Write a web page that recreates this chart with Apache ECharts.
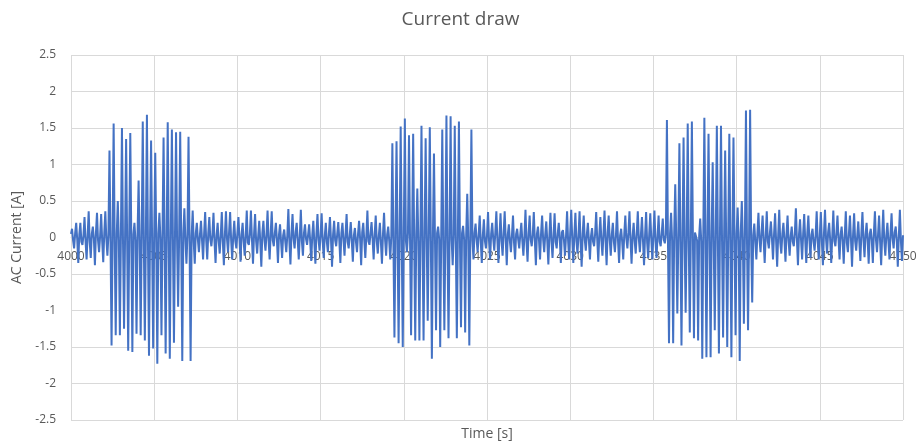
<!DOCTYPE html>
<html><head><meta charset="utf-8">
<script src="https://cdn.jsdelivr.net/npm/echarts@6/dist/echarts.min.js"></script>
<style>html,body{margin:0;padding:0;background:#fff}#c{width:921px;height:443px}</style>
</head><body><div id="c"></div>
<script>
const startTime = 4000;
const sampleStep = 0.0625;
const yTicksMin = -2.5, yTicksMax = 2.5, yInterval = 0.5;
const xMin = 4000, xMax = 4050, xInterval = 5;

const posPeaks = [
 0.12,0.2,0.2,0.28,  0.36,0.15,0.34,0.32,  0.36,1.19,1.56,0.5,  1.5,1.35,1.43,0.2,  0.78,1.59,1.68,1.33,
 1.16,0.34,1.37,1.58,  1.48,1.44,1.45,0.4,  1.38,0.37,0.2,0.23,  0.35,0.28,0.34,0.2,  0.35,0.36,0.35,0.23,
 0.28,0.2,0.37,0.37,  0.32,0.23,0.23,0.37,  0.36,0.2,0.18,0.11,  0.39,0.32,0.2,0.38,  0.18,0.18,0.23,0.32,
 0.33,0.2,0.28,0.23,  0.21,0.2,0.32,0.21,  0.13,0.23,0.2,0.37,  0.21,0.3,0.2,0.34,  0.15,1.29,1.32,1.52,
 1.63,1.4,1.42,0.67,  1.53,1.36,1.51,1.15,  0.15,1.48,1.67,1.66,  1.53,1.59,0.16,0.6,  1.48,0.19,0.3,0.25,
 0.35,0.2,0.36,0.33,  0.36,0.18,0.3,0.12,  0.2,0.38,0.3,0.35,  0.15,0.3,0.22,0.34,  0.33,0.2,0.1,0.36,
 0.38,0.34,0.36,0.3,  0.2,0.13,0.35,0.28,  0.37,0.3,0.2,0.36,  0.12,0.3,0.36,0.2,  0.36,0.28,0.35,0.33,
 0.37,0.3,0.26,1.61,  0.34,0.73,1.29,1.37,  1.56,1.59,0.05,0.26,  1.64,1.42,1.03,1.53,  1.53,1.19,1.42,1.37,
 0.41,0.5,1.74,1.75,  0.19,0.34,0.3,0.36,  0.22,0.33,0.38,0.2,  0.3,0.15,0.4,0.25,  0.32,0.3,0.12,0.36,
 0.35,0.38,0.2,0.37,  0.3,0.15,0.36,0.3,  0.33,0.22,0.35,0.2,  0.12,0.36,0.3,0.38,  0.2,0.33,0.15,0.38
];
const negPeaks = [
 -0.15,-0.35,-0.1,-0.3,  -0.28,-0.38,-0.2,-0.34,  -0.25,-1.48,-1.34,-1.34,  -1.25,-1.55,-1.57,-1.32,  -1.34,-1.41,-1.62,-1.52,
 -1.73,-1.34,-1.59,-1.66,  -1.44,-0.95,-1.69,-0.36,  -1.69,-0.36,-0.2,-0.3,  -0.3,-0.12,-0.35,-0.22,  -0.38,-0.2,-0.3,-0.15,
 -0.33,-0.25,-0.1,-0.36,  -0.22,-0.4,-0.18,-0.3,  -0.12,-0.35,-0.28,-0.2,  -0.37,-0.15,-0.3,-0.25,  -0.1,-0.32,-0.36,-0.18,
 -0.28,-0.2,-0.4,-0.12,  -0.35,-0.25,-0.15,-0.33,  -0.2,-0.38,-0.28,-0.1,  -0.3,-0.22,-0.36,-0.25,  -0.3,-1.37,-1.45,-1.5,
 -0.2,-1.34,-1.41,-1.41,  -1.41,-1.14,-1.66,-1.27,  -1.5,-1.27,-1.38,-0.38,  -1.38,-1.23,-1.3,-1.48,  -0.3,-0.2,-0.35,-0.15,
 -0.3,-0.18,-0.35,-0.25,  -0.38,-0.2,-0.3,-0.15,  -0.25,-0.33,-0.12,-0.38,  -0.3,-0.2,-0.37,-0.28,  -0.15,-0.35,-0.25,-0.3,
 -0.35,-0.22,-0.4,-0.18,  -0.3,-0.12,-0.33,-0.25,  -0.38,-0.25,-0.2,-0.35,  -0.3,-0.15,-0.36,-0.22,  -0.2,-0.38,-0.28,-0.3,
 -0.28,-0.12,-0.08,-1.45,  -1.45,-1.04,-1.48,-1.03,  -1.3,-1.38,-1.41,-1.66,  -1.64,-1.64,-1.27,-1.59,  -1.37,-1.5,-1.64,-1.34,
 -1.69,-1.18,-1.27,-0.89,  -0.3,-0.2,-0.35,-0.15,  -0.3,-0.4,-0.22,-0.33,  -0.25,-0.12,-0.38,-0.3,  -0.35,-0.28,-0.18,-0.3,
 -0.38,-0.22,-0.35,-0.12,  -0.3,-0.36,-0.2,-0.4,  -0.18,-0.32,-0.27,-0.36,  -0.35,-0.2,-0.38,-0.25,  -0.3,-0.15,-0.4,-0.32
];
const baseline = [
 0.05,-0.04,0.06,-0.03,0.04,-0.06,0.03,-0.05,  0.03,-0.06,0.05,-0.02,0.07,-0.04,0.02,-0.05,
 0.06,-0.02,0.04,-0.05,0.03,-0.07,0.05,-0.03,  0.04,-0.05,0.02,-0.06,0.06,-0.03,0.04,-0.04,
 0.05,-0.04,0.06,-0.03,0.04,-0.06,0.03,-0.05,  0.03,-0.06,0.05,-0.02,0.07,-0.04,0.02,-0.05,
 0.06,-0.02,0.04,-0.05,0.03,-0.07,0.05,-0.03,  0.04,-0.05,0.02,-0.06,0.06,-0.03,0.04,-0.04,
 0.05,-0.04,0.06,-0.03,0.04,-0.06,0.03,-0.05,  0.03,-0.06,0.05,-0.02,0.07,-0.04,0.02,-0.05,
 0.06,-0.02,0.04,-0.05,0.03,-0.07,0.05,-0.03,  0.04,-0.05,0.02,-0.06,0.06,-0.03,0.04,-0.04,
 0.05,-0.04,0.06,-0.03,0.04,-0.06,0.03,-0.05,  0.03,-0.06,0.05,-0.02,0.07,-0.04,0.02,-0.05,
 0.06,-0.02,0.04,-0.05,0.03,-0.07,0.05,-0.03,  0.04,-0.05,0.02,-0.06,0.06,-0.03,0.04,-0.04,
 0.05,-0.04,0.06,-0.03,0.04,-0.06,0.03,-0.05,  0.03,-0.06,0.05,-0.02,0.07,-0.04,0.02,-0.05,
 0.06,-0.02,0.04,-0.05,0.03,-0.07,0.05,-0.03,  0.04,-0.05,0.02,-0.06,0.06,-0.03,0.04,-0.04,
 0.05,-0.04,0.06,-0.03,0.04,-0.06,0.03,-0.05,  0.03,-0.06,0.05,-0.02,0.07,-0.04,0.02,-0.05,
 0.06,-0.02,0.04,-0.05,0.03,-0.07,0.05,-0.03,  0.04,-0.05,0.02,-0.06,0.06,-0.03,0.04,-0.04,
 0.05,-0.04,0.06,-0.03,0.04,-0.06,0.03,-0.05,  0.03,-0.06,0.05,-0.02,0.07,-0.04,0.02,-0.05,
 0.06,-0.02,0.04,-0.05,0.03,-0.07,0.05,-0.03,  0.04,-0.05,0.02,-0.06,0.06,-0.03,0.04,-0.04,
 0.05,-0.04,0.06,-0.03,0.04,-0.06,0.03,-0.05,  0.03,-0.06,0.05,-0.02,0.07,-0.04,0.02,-0.05,
 0.06,-0.02,0.04,-0.05,0.03,-0.07,0.05,-0.03,  0.04,-0.05,0.02,-0.06,0.06,-0.03,0.04,-0.04,
 0.05,-0.04,0.06,-0.03,0.04,-0.06,0.03,-0.05,  0.03,-0.06,0.05,-0.02,0.07,-0.04,0.02,-0.05,
 0.06,-0.02,0.04,-0.05,0.03,-0.07,0.05,-0.03,  0.04,-0.05,0.02,-0.06,0.06,-0.03,0.04,-0.04,
 0.05,-0.04,0.06,-0.03,0.04,-0.06,0.03,-0.05,  0.03,-0.06,0.05,-0.02,0.07,-0.04,0.02,-0.05,
 0.06,-0.02,0.04,-0.05,0.03,-0.07,0.05,-0.03,  0.04,-0.05,0.02,-0.06,0.06,-0.03,0.04,-0.04,
 0.05,-0.04,0.06,-0.03,0.04,-0.06,0.03,-0.05,  0.03,-0.06,0.05,-0.02,0.07,-0.04,0.02,-0.05,
 0.06,-0.02,0.04,-0.05,0.03,-0.07,0.05,-0.03,  0.04,-0.05,0.02,-0.06,0.06,-0.03,0.04,-0.04,
 0.05,-0.04,0.06,-0.03,0.04,-0.06,0.03,-0.05,  0.03,-0.06,0.05,-0.02,0.07,-0.04,0.02,-0.05,
 0.06,-0.02,0.04,-0.05,0.03,-0.07,0.05,-0.03,  0.04,-0.05,0.02,-0.06,0.06,-0.03,0.04,-0.04,
 0.05,-0.04,0.06,-0.03,0.04,-0.06,0.03,-0.05,  0.03,-0.06,0.05,-0.02,0.07,-0.04,0.02,-0.05,
 0.03
];

const samples = [];
for (let k = 0; k < posPeaks.length; k++) {
  samples.push([startTime + (4 * k) * sampleStep, baseline[2 * k]]);
  samples.push([startTime + (4 * k + 1) * sampleStep, posPeaks[k]]);
  samples.push([startTime + (4 * k + 2) * sampleStep, baseline[2 * k + 1]]);
  samples.push([startTime + (4 * k + 3) * sampleStep, negPeaks[k]]);
}
samples.push([startTime + 4 * posPeaks.length * sampleStep, baseline[2 * posPeaks.length]]);

const FONT = 'Open Sans';
const TXT = '#595959';
const GRID_TOP = 55, GRID_BOTTOM = 23, CHART_H = 443;
const plotH = CHART_H - GRID_TOP - GRID_BOTTOM;
// shift x axis from the bottom edge up to the y = 0 line
const zeroShift = plotH * (0 - yTicksMin) / (yTicksMax - yTicksMin);

const chart = echarts.init(document.getElementById('c'), null, {renderer: 'canvas'});
chart.setOption({
  animation: false,
  backgroundColor: '#ffffff',
  title: {
    text: 'Current draw', left: 'center', top: 5,
    textStyle: {fontFamily: FONT, fontSize: 19, fontWeight: 'normal', color: TXT}
  },
  grid: {left: 71, right: 18, top: GRID_TOP, bottom: GRID_BOTTOM, containLabel: false},
  xAxis: {
    type: 'value', min: xMin, max: xMax, interval: xInterval,
    offset: -zeroShift,
    axisLine: {show: true, onZero: false, lineStyle: {color: '#d9d9d9', width: 1}},
    axisTick: {show: false},
    axisLabel: {color: TXT, fontFamily: FONT, fontSize: 12, margin: 13,
      showMinLabel: true, showMaxLabel: true, formatter: v => String(v)},
    splitLine: {show: true, lineStyle: {color: '#d9d9d9', width: 1}}
  },
  yAxis: {
    type: 'value', min: yTicksMin, max: yTicksMax, interval: yInterval,
    name: 'AC Current [A]', nameLocation: 'middle', nameGap: 37,
    nameTextStyle: {color: TXT, fontFamily: FONT, fontSize: 14},
    axisLine: {show: false},
    axisTick: {show: false},
    axisLabel: {color: TXT, fontFamily: FONT, fontSize: 12, margin: 15},
    splitLine: {show: true, lineStyle: {color: '#d9d9d9', width: 1}}
  },
  graphic: [{
    type: 'text', x: 487, y: 434,
    style: {text: 'Time [s]', fill: TXT, font: '14px "Open Sans"', textAlign: 'center', textVerticalAlign: 'middle'}
  }],
  series: [{
    type: 'line', data: samples, showSymbol: false, sampling: null,
    lineStyle: {color: '#4472C4', width: 2}, itemStyle: {color: '#4472C4'}
  }]
});
</script>
</body></html>
